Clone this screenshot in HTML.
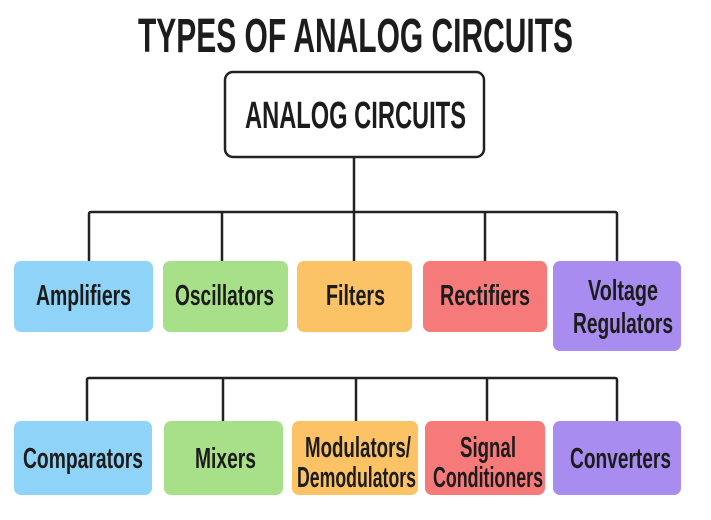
<!DOCTYPE html>
<html><head><meta charset="utf-8"><style>
html,body{margin:0;padding:0;background:#fff;width:711px;height:520px;overflow:hidden}
svg{display:block}
text{font-family:"Liberation Sans Narrow","Liberation Sans",sans-serif;font-weight:bold;fill:#1c1c1c}
</style></head><body>
<svg width="711" height="520" viewBox="0 0 711 520" xmlns="http://www.w3.org/2000/svg">
<text x="138" y="52" font-size="48" textLength="435" lengthAdjust="spacingAndGlyphs" fill="#222">TYPES OF ANALOG CIRCUITS</text>
<rect x="225" y="72" width="259" height="85" rx="8" fill="#fff" stroke="#222" stroke-width="2.5"/>
<text x="245" y="128" font-size="38" textLength="221" lengthAdjust="spacingAndGlyphs">ANALOG CIRCUITS</text>
<g stroke="#222" stroke-width="2.5" fill="none">
<path d="M354 157V212"/>
<path d="M89 262V214Q89 212 91 212H615Q617 212 617 214V262"/>
<path d="M222 212V262M354 212V262M485 212V262"/>
<path d="M87 422V380Q87 378 89 378H615Q617 378 617 380V422"/>
<path d="M223 378V422M356 378V422M487 378V422"/>
</g>
<g>
<rect x="14" y="261" width="139" height="71" rx="7" fill="#8fd3f8"/>
<rect x="163" y="261" width="125" height="71" rx="7" fill="#a8e08a"/>
<rect x="297" y="261" width="115" height="71" rx="7" fill="#fbc266"/>
<rect x="423" y="261" width="124" height="71" rx="7" fill="#f77a7a"/>
<rect x="553" y="261" width="128" height="90" rx="7" fill="#a98cf0"/>
<rect x="14" y="421" width="138" height="74" rx="7" fill="#8fd3f8"/>
<rect x="164" y="421" width="119" height="74" rx="7" fill="#a8e08a"/>
<rect x="292" y="421" width="126" height="74" rx="7" fill="#fbc266"/>
<rect x="425" y="421" width="120" height="74" rx="7" fill="#f77a7a"/>
<rect x="553" y="421" width="128" height="74" rx="7" fill="#a98cf0"/>
</g>
<g font-size="29">
<text x="36" y="305" textLength="95" lengthAdjust="spacingAndGlyphs" fill="#102030">Amplifiers</text>
<text x="175" y="305" textLength="99" lengthAdjust="spacingAndGlyphs" fill="#132a10">Oscillators</text>
<text x="326" y="305" textLength="59" lengthAdjust="spacingAndGlyphs" fill="#2a1a05">Filters</text>
<text x="440" y="305" textLength="90" lengthAdjust="spacingAndGlyphs" fill="#2a0a0a">Rectifiers</text>
<text x="588" y="300" textLength="70" lengthAdjust="spacingAndGlyphs" fill="#1a1030">Voltage</text>
<text x="573" y="333" textLength="100" lengthAdjust="spacingAndGlyphs" fill="#1a1030">Regulators</text>
<text x="23" y="468" textLength="120" lengthAdjust="spacingAndGlyphs" fill="#102030">Comparators</text>
<text x="195" y="468" textLength="61" lengthAdjust="spacingAndGlyphs" fill="#132a10">Mixers</text>
<text x="305" y="457" textLength="106" lengthAdjust="spacingAndGlyphs" fill="#2a1a05">Modulators/</text>
<text x="297" y="487" textLength="119" lengthAdjust="spacingAndGlyphs" fill="#2a1a05">Demodulators</text>
<text x="460" y="457" textLength="56" lengthAdjust="spacingAndGlyphs" fill="#2a0a0a">Signal</text>
<text x="433" y="487" textLength="110" lengthAdjust="spacingAndGlyphs" fill="#2a0a0a">Conditioners</text>
<text x="570" y="468" textLength="101" lengthAdjust="spacingAndGlyphs" fill="#1a1030">Converters</text>
</g>
</svg>
</body></html>
